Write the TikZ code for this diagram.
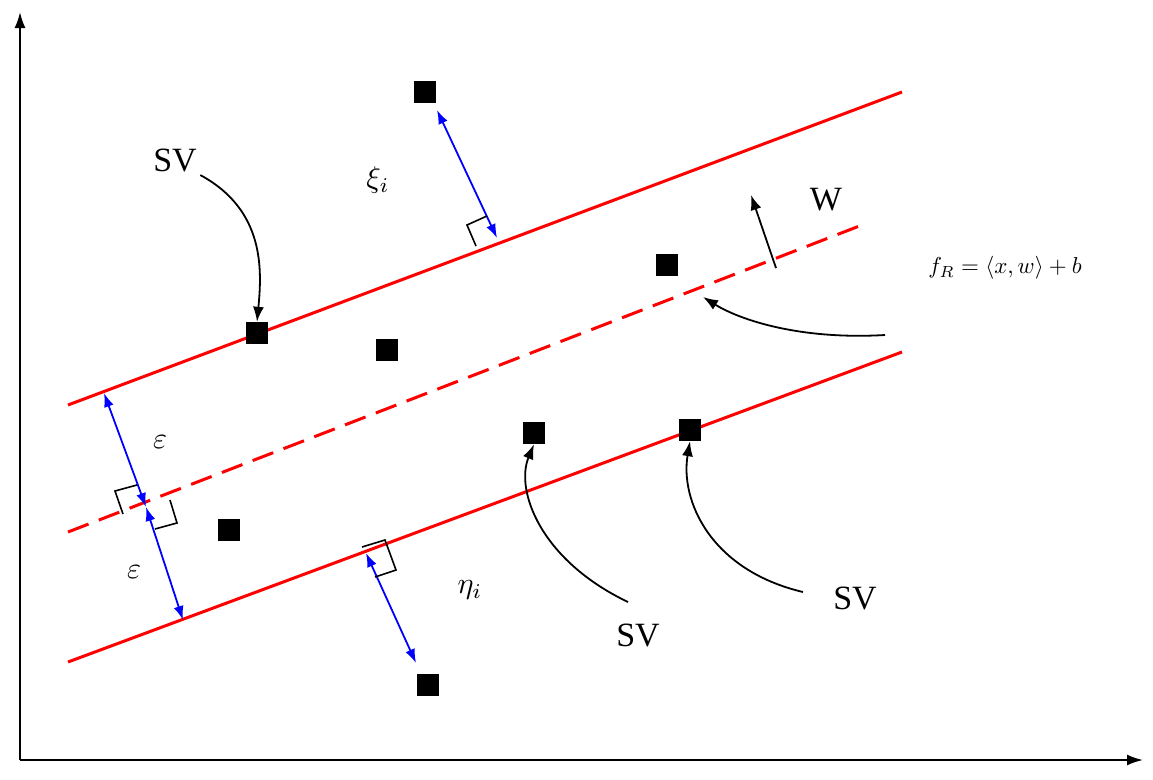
\documentclass[tikz,border=0pt]{standalone}
\usepackage{fontspec}
\setmainfont{Liberation Serif}
\usetikzlibrary{arrows.meta}
\begin{document}
\begin{tikzpicture}[x=1pt,y=-1pt,
 red/.style={draw=red,line width=3pt},
 sq/.style={fill=black,minimum size=22pt,inner sep=0pt},
 blu/.style={draw=blue,line width=1.8pt,{Latex[length=14pt,width=10pt]}-{Latex[length=14pt,width=10pt]}},
 cur/.style={draw=black,line width=1.8pt,-{Latex[length=15pt,width=11pt]}},
 lab/.style={font=\fontsize{34}{34}\selectfont},
 mlab/.style={scale=3,transform shape},
 ra/.style={draw=black,line width=1.6pt}]
\useasboundingbox (0,0) rectangle (1153,779);
\coordinate (o) at (20,760);
\coordinate (yt) at (20,12);
\coordinate (xt) at (1143,760);
\draw[line width=2pt,-{Latex[length=16pt,width=11pt]}] (o) -- (yt);
\draw[line width=2pt,-{Latex[length=16pt,width=11pt]}] (o) -- (xt);
% lines
\coordinate (u1) at (68,405); \coordinate (u2) at (902,92);
\coordinate (m1) at (68,532); \coordinate (m2) at (862,225);
\coordinate (l1) at (68,662); \coordinate (l2) at (902,352);
\draw[red] (u1) -- (u2);
\draw[red,dash pattern=on 22pt off 11pt] (m1) -- (m2);
\draw[red] (l1) -- (l2);
% squares
\node[sq] (s1) at (425,92) {};
\node[sq] (s2) at (257,333) {};
\node[sq] (s3) at (387,350) {};
\node[sq] (s4) at (667,265) {};
\node[sq] (s5) at (534,433) {};
\node[sq] (s6) at (690,430) {};
\node[sq] (s7) at (229,530) {};
\node[sq] (s8) at (428,685) {};
% blue arrows
\coordinate (xa) at (437,110); \coordinate (xb) at (497,238);
\draw[blu] (xa) -- (xb);
\draw[ra] (476,246) -- (467,225) -- (487,216);
\coordinate (ea) at (104,393); \coordinate (eb) at (146,507); \coordinate (ec) at (183,620);
\draw[blu] (ea) -- (eb);
\draw[blu] (eb) -- (ec);
\draw[ra] (137,485) -- (115,491) -- (123,514);
\draw[ra] (155,529) -- (177,523) -- (170,500);
\coordinate (na) at (366,553); \coordinate (nb) at (416,663);
\draw[blu] (na) -- (nb);
\draw[ra] (362,547) -- (385,540) -- (396,570) -- (375,577);
% W
\coordinate (w1) at (776,268); \coordinate (w2) at (751,195);
\draw[cur] (w1) -- (w2);
\node[lab] (W) at (826,200) {W};
\node[scale=2.3,transform shape] (f) at (1005,268) {$f_R=\langle x,w\rangle+b$};
\draw[cur] (885,335) .. controls (800,340) and (740,320) .. (703,297);
% texts
\node[mlab] (xi) at (378,180) {$\xi_i$};
\node[mlab] (e1) at (160,442) {$\varepsilon$};
\node[mlab] (e2) at (134,572) {$\varepsilon$};
\node[mlab] (eta) at (470,590) {$\eta_i$};
\node[lab] (sv1) at (175,160) {SV};
\node[lab] (sv2) at (638,635) {SV};
\node[lab] (sv3) at (855,598) {SV};
\draw[cur] (sv1.south east) .. controls (265,210) and (262,270) .. (s2.north);
\draw[cur] (628,602) .. controls (540,560) and (515,490) .. (s5.south);
\draw[cur] (803,592) .. controls (710,570) and (680,500) .. (s6.south);
\end{tikzpicture}
\end{document}
